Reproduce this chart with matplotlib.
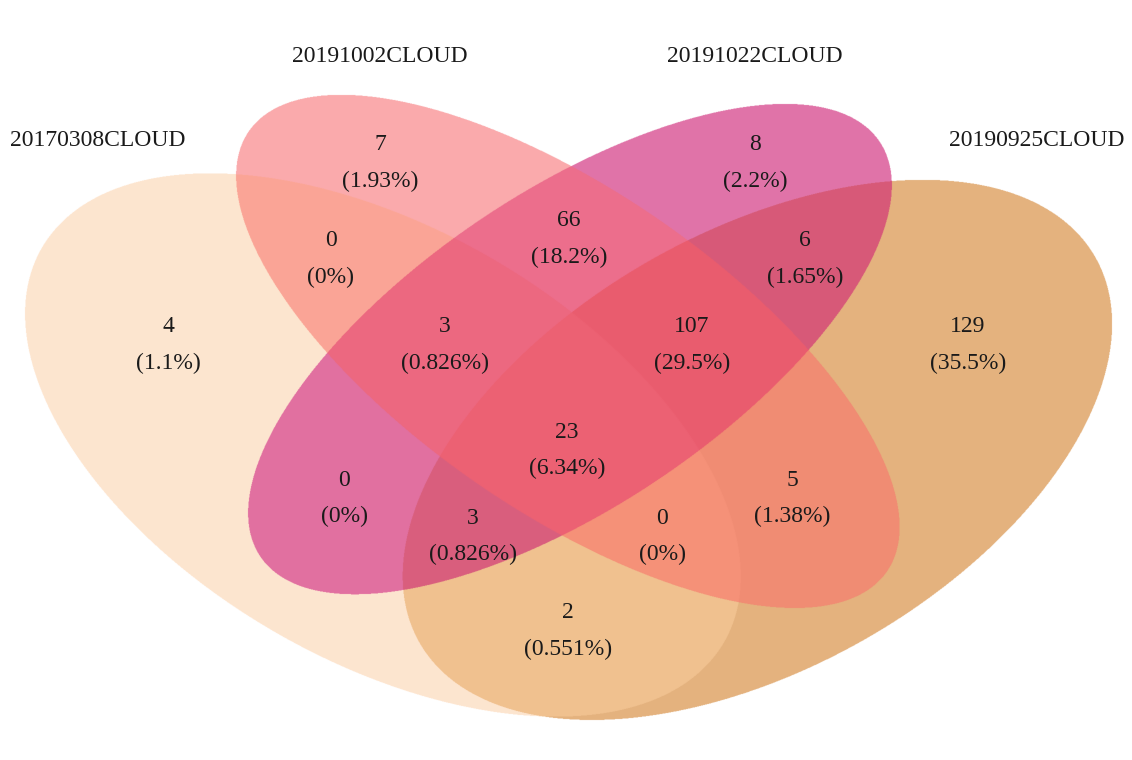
import numpy as np
import matplotlib
matplotlib.use("Agg")
import matplotlib.pyplot as plt

# ---------------- data ----------------
set_names = ["20170308CLOUD", "20191002CLOUD", "20191022CLOUD", "20190925CLOUD"]
# region membership keys (A, B, C, D) -> counts
region_keys = ["1000", "0100", "0010", "0001",
               "1100", "0110", "0011",
               "1110", "0111", "1111",
               "1010", "0101", "1011", "1101", "1001"]
region_counts = [4, 7, 8, 129,
                 0, 66, 6,
                 3, 107, 23,
                 0, 5, 3, 0, 2]

# ---------------- layout / style ----------------
W, H = 1132, 760
# ellipses in pixel space: centre x, centre y, semi-major, semi-minor, angle (deg, y down)
ellipses = [
    (383.0, 445.0, 394.0, 216.0, 30.0),    # 20170308CLOUD
    (567.9, 351.4, 387.6, 160.2, 34.6),    # 20191002CLOUD
    (570.0, 349.1, 372.7, 157.5, -33.8),   # 20191022CLOUD
    (757.4, 449.9, 389.0, 217.8, -29.7),   # 20190925CLOUD
]
region_colors = {
    "1000": "#FDE5CF", "0100": "#FAAAAC", "0010": "#E074A8", "0001": "#E4B27E",
    "1100": "#FAA596", "0110": "#EC6E8C", "0011": "#D75A78",
    "1110": "#EC6880", "0111": "#EA5C6E", "1111": "#EC6173",
    "1010": "#E170A0", "0101": "#F08C73", "1011": "#D95F7D",
    "1101": "#F59178", "1001": "#F0C18F",
}
label_pos = {
    "1000": (168, 345), "0100": (380, 163), "0010": (755, 163), "0001": (968, 345),
    "1100": (331, 259), "0110": (569, 239), "0011": (805, 259),
    "1110": (445, 345), "0111": (692, 345), "1111": (567, 450),
    "1010": (344, 498), "0101": (792, 498), "1011": (473, 536),
    "1101": (662, 536), "1001": (568, 631),
}
set_label_pos = [(98, 140), (380, 57), (755, 57), (1037, 140)]
FONT = "Liberation Serif"
FS = 17

# ---------------- region raster ----------------
ss = 2
xs = (np.arange(W * ss) + 0.5) / ss
ys = (np.arange(H * ss) + 0.5) / ss
X, Y = np.meshgrid(xs, ys)
code = np.zeros(X.shape, dtype=int)
for i, (cx, cy, a, b, ang) in enumerate(ellipses):
    t = np.radians(ang)
    dx, dy = X - cx, Y - cy
    u = dx * np.cos(t) + dy * np.sin(t)
    v = -dx * np.sin(t) + dy * np.cos(t)
    inside = (u / a) ** 2 + (v / b) ** 2 <= 1.0
    code |= inside.astype(int) << (3 - i)

lut = np.ones((16, 3))
for key in region_keys:
    idx = int(key, 2)
    lut[idx] = matplotlib.colors.to_rgb(region_colors[key])
rgb = lut[code]

fig = plt.figure(figsize=(W / 100, H / 100), dpi=100)
ax = fig.add_axes([0, 0, 1, 1])
ax.imshow(rgb, extent=(0, W, H, 0), interpolation="antialiased",
          interpolation_stage="rgba", aspect="auto")
ax.set_xlim(0, W)
ax.set_ylim(H, 0)
ax.axis("off")

total = sum(region_counts)
for key, cnt in zip(region_keys, region_counts):
    x, y = label_pos[key]
    pct = cnt / total * 100
    ax.text(x, y - 18, f"{cnt}", ha="center", va="center",
            fontsize=FS, family=FONT, color="#1a1a1a")
    ax.text(x, y + 18, f"({pct:.3g}%)", ha="center", va="center",
            fontsize=FS, family=FONT, color="#1a1a1a")

for name, (x, y) in zip(set_names, set_label_pos):
    ax.text(x, y, name, ha="center", va="center", fontsize=FS,
            family=FONT, color="#1a1a1a")

fig.savefig("out.png", dpi=100)
